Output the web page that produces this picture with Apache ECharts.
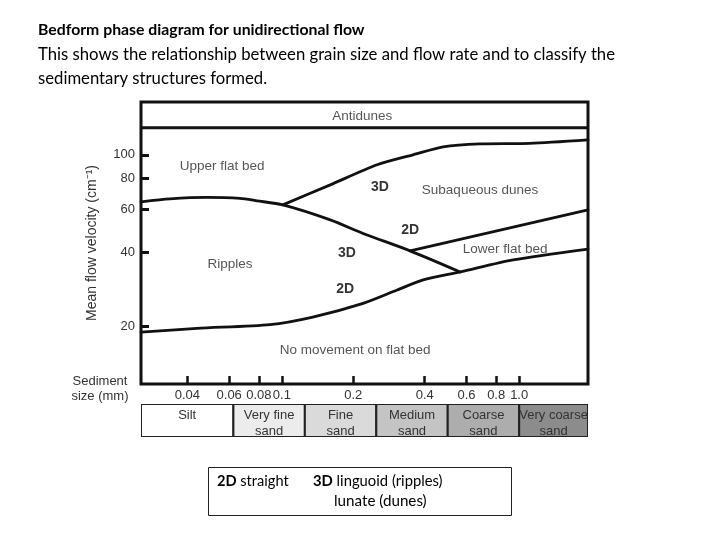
<!DOCTYPE html>
<html><head><meta charset="utf-8">
<script src="https://cdn.jsdelivr.net/npm/echarts@6/dist/echarts.min.js"></script>
<style>html,body{margin:0;padding:0;background:#fff}#c{width:720px;height:540px}</style>
</head><body><div id="c"></div>
<script>
// ---- axis data ----
const X_TICKS = [0.04, 0.06, 0.08, 0.1, 0.2, 0.4, 0.6, 0.8, 1.0];   // sediment size (mm)
const Y_TICKS = [20, 40, 60, 80, 100];                              // mean flow velocity
const X_MIN = 0.0255, X_MAX = 1.95;
const Y_MIN = 11.7, Y_MAX = 164;
const ANTIDUNES_V = 129;

// ---- boundary curves [grain size mm, velocity] ----
const upperFlatRipplesDunes = [[0.0255,64.4],[0.0338,66.2],[0.0484,67.1],[0.0666,66.5],[0.0786,65.0],[0.101,62.6],[0.160,54.4],[0.220,47.9],[0.347,40.7],[0.564,33.4]];
const upperFlatDunes = [[0.101,62.6],[0.160,75.5],[0.252,91.1],[0.357,100],[0.478,107.8],[0.684,110.9],[1.11,111.4],[1.95,115.1]];
const dunesLowerFlat = [[0.347,40.7],[1.95,59.7]];
const noMovement = [[0.0255,19.0],[0.0439,19.7],[0.0892,20.4],[0.135,21.9],[0.220,24.9],[0.306,28.2],[0.394,31.0],[0.564,33.4],[0.943,37.4],[1.95,41.4]];

// ---- region labels ----
const regionNames = ['Antidunes','Upper flat bed','Subaqueous dunes','Lower flat bed','Ripples','No movement on flat bed'];
const regionPos = [[0.218,144],[0.056,90.2],[0.684,72.0],[0.872,41.4],[0.0605,36.0],[0.2035,16.1]];
const formNames = ['3D','2D','3D','2D'];
const formPos = [[0.259,74.1],[0.347,49.5],[0.188,39.9],[0.185,28.5]];

// ---- grain size classes ----
const grainClasses = ['Silt','Very fine\nsand','Fine\nsand','Medium\nsand','Coarse\nsand','Very coarse\nsand'];
const grainBounds = [0.0255, 0.0625, 0.125, 0.25, 0.5, 1, 2];
const grainFills = ['#ffffff','#ececec','#dadada','#c4c4c4','#adadad','#8c8c8c'];

const FONT = 'Liberation Sans, Arial, sans-serif';
const TFONT = 'Lato, sans-serif';
const lineStyle = {color:'#111', width:2.8, cap:'round'};
function curve(data){
  return {type:'line', xAxisIndex:0, yAxisIndex:0, data:data, smooth:0.25, symbol:'none', lineStyle:lineStyle, silent:true, z:3};
}

const chart = echarts.init(document.getElementById('c'), null, {renderer:'canvas'});
chart.setOption({
  animation:false,
  backgroundColor:'#fff',
  grid:[
    {left:141, top:102, width:447, height:282, show:true, borderColor:'#111', borderWidth:3, backgroundColor:'transparent'},
    {left:141, top:404, width:447, height:33}
  ],
  xAxis:[
    {type:'log', logBase:10, min:X_MIN, max:X_MAX, gridIndex:0,
     axisLine:{show:false}, splitLine:{show:false},
     axisTick:{show:true, inside:true, length:8, lineStyle:{color:'#111', width:2.5}, customValues:X_TICKS},
     axisLabel:{show:true, margin:5, color:'#333', fontSize:13, fontFamily:FONT, customValues:X_TICKS,
       formatter:function(v){ return Math.abs(v-1)<1e-6 ? '1.0' : String(+v.toPrecision(3)); }}},
    {type:'log', logBase:10, min:X_MIN, max:X_MAX, gridIndex:1, show:false}
  ],
  yAxis:[
    {type:'log', logBase:10, min:Y_MIN, max:Y_MAX, gridIndex:0,
     name:'Mean flow velocity (cm\u207B\u00B9)', nameLocation:'middle', nameGap:42,
     nameTextStyle:{color:'#333', fontSize:14, fontFamily:FONT},
     axisLine:{show:false}, splitLine:{show:false},
     axisTick:{show:true, inside:true, length:8, lineStyle:{color:'#111', width:3}, customValues:Y_TICKS},
     axisLabel:{show:true, margin:6, color:'#333', fontSize:13, fontFamily:FONT, customValues:Y_TICKS,
       formatter:function(v){ return String(Math.round(v)); }}},
    {type:'value', min:0, max:1, gridIndex:1, show:false}
  ],
  graphic:[
    {type:'text', left:38, top:22, style:{text:'Bedform phase diagram for unidirectional flow', font:'bold 15.8px '+TFONT, fill:'#000'}},
    {type:'text', left:38, top:46, style:{text:'This shows the relationship between grain size and flow rate and to classify the', font:'16.7px '+TFONT, fill:'#000'}},
    {type:'text', left:38, top:70, style:{text:'sedimentary structures formed.', font:'16.7px '+TFONT, fill:'#000'}},
    {type:'text', x:100, y:381, style:{text:'Sediment', font:'13px '+FONT, fill:'#333', align:'center', verticalAlign:'middle'}},
    {type:'text', x:100, y:396, style:{text:'size (mm)', font:'13px '+FONT, fill:'#333', align:'center', verticalAlign:'middle'}},
    {type:'rect', shape:{x:208.5, y:467.5, width:303, height:48}, style:{fill:'none', stroke:'#222', lineWidth:1}},
    {type:'text', x:217, y:481, style:{text:'{b|2D} straight', font:'14.6px '+TFONT, fill:'#000', verticalAlign:'middle',
      rich:{b:{font:'bold 14.6px '+TFONT, fill:'#000'}}}},
    {type:'text', x:313, y:481, style:{text:'{b|3D} linguoid (ripples)', font:'14.8px '+TFONT, fill:'#000', verticalAlign:'middle',
      rich:{b:{font:'bold 14.8px '+TFONT, fill:'#000'}}}},
    {type:'text', x:334, y:501, style:{text:'lunate (dunes)', font:'15.2px '+TFONT, fill:'#000', verticalAlign:'middle'}}
  ],
  series:[
    curve(upperFlatRipplesDunes),
    curve(upperFlatDunes),
    curve(dunesLowerFlat),
    curve(noMovement),
    {type:'line', xAxisIndex:0, yAxisIndex:0, data:[[X_MIN,ANTIDUNES_V],[X_MAX,ANTIDUNES_V]], symbol:'none', lineStyle:{color:'#111', width:3}, silent:true, z:3},
    {type:'scatter', xAxisIndex:0, yAxisIndex:0, symbolSize:1, itemStyle:{color:'transparent'}, silent:true, z:4,
     data:regionNames.map(function(n,i){ return {name:n, value:regionPos[i]}; }),
     label:{show:true, position:'inside', formatter:'{b}', color:'#2a2a2a', fontSize:13.5, fontFamily:FONT}},
    {type:'scatter', xAxisIndex:0, yAxisIndex:0, symbolSize:1, itemStyle:{color:'transparent'}, silent:true, z:4,
     data:formNames.map(function(n,i){ return {name:n, value:formPos[i]}; }),
     label:{show:true, position:'inside', formatter:'{b}', color:'#000', fontSize:14, fontWeight:'bold', fontFamily:FONT}},
    {type:'custom', xAxisIndex:1, yAxisIndex:1, silent:true, clip:true,
     encode:{x:[0,1], y:2},
     data:grainClasses.map(function(n,i){ return [grainBounds[i], grainBounds[i+1], 0.5, i]; }),
     renderItem:function(params, api){
       var i = api.value(3);
       var p0 = api.coord([api.value(0), 1]);
       var p1 = api.coord([api.value(1), 0]);
       var cs = params.coordSys;
       var x0 = Math.max(p0[0], cs.x), x1 = Math.min(p1[0], cs.x + cs.width);
       return {type:'group', children:[
         {type:'rect', shape:{x:x0, y:p0[1], width:x1-x0, height:p1[1]-p0[1]}, style:{fill:grainFills[i], stroke:'#222', lineWidth:2}},
         {type:'text', style:{text:grainClasses[i], x:(x0+x1)/2, y:p0[1]+3, align:'center', textAlign:'center', verticalAlign:'top', textVerticalAlign:'top',
           fontSize:13, lineHeight:16, fontFamily:FONT, fill:'#333'}}
       ]};
     }}
  ]
});
</script></body></html>
